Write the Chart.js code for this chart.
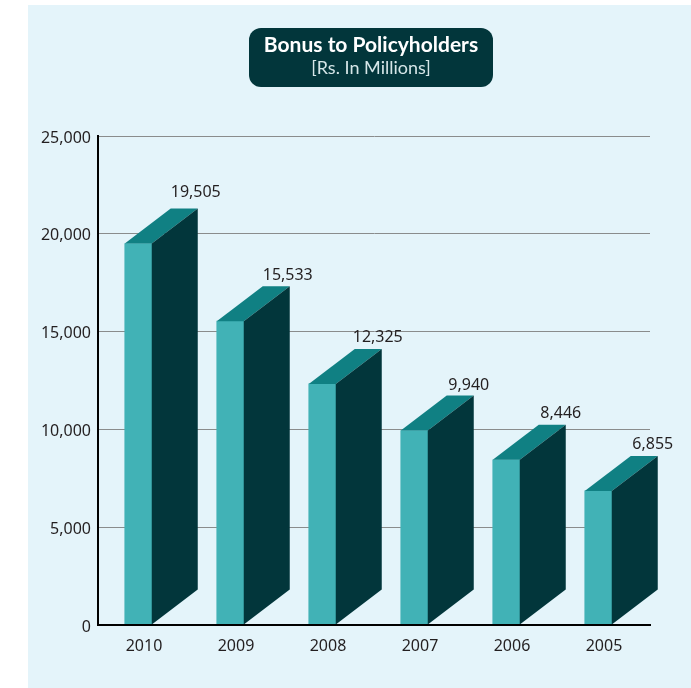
<!DOCTYPE html>
<html>
<head>
<meta charset="utf-8">
<title>Bonus to Policyholders</title>
<script src="https://cdn.jsdelivr.net/npm/chart.js@4"></script>
<style>
    html, body { margin: 0; padding: 0; background: #fff; }
    #panel { position: absolute; left: 28px; top: 5px; width: 663px; height: 683px; background: #e4f4fa; }
    #myChart { position: absolute; left: 0; top: 0; }
</style>
</head>
<body>
<div id="panel"></div>
<canvas id="myChart" width="691" height="688"></canvas>
<script>
const years = ['2010', '2009', '2008', '2007', '2006', '2005'];
const bonus = [19505, 15533, 12325, 9940, 8446, 6855];
const chartTitle = 'Bonus to Policyholders';
const chartSubtitle = '[Rs. In Millions]';

const FRONT = '#41b2b6';
const TOP = '#108083';
const SIDE = '#02363b';
const NAVY = '#02363b';
const TEXT = '#231f20';
const FONT = '"Noto Sans", sans-serif';

// the front face sits a little left of the tick label
const SHIFT_X = -5.75;
const DEPTH_X = 46;
const DEPTH_Y = 35;

// hand placement of the value labels, in pixels from the default spot
const LABEL_NUDGE_X = [0, 0, -2, -3, -3, -3];
const LABEL_NUDGE_Y = [-5, 0, 0, 1, 0, 0];

const formatNumber = value => value.toLocaleString('en-US');

// rounded badge above the plot
const badge = {
    id: 'badge',
    afterDraw(chart) {
        const ctx = chart.ctx;
        ctx.save();
        ctx.fillStyle = NAVY;
        ctx.beginPath();
        ctx.roundRect(249, 28, 244, 59, 12);
        ctx.fill();
        ctx.textAlign = 'center';
        ctx.textBaseline = 'middle';
        ctx.fillStyle = '#fff';
        ctx.font = 'bold 21px Lato, sans-serif';
        ctx.fillText(chartTitle, 371, 45);
        ctx.fillStyle = '#d5e6e8';
        ctx.font = '18px Lato, sans-serif';
        ctx.fillText(chartSubtitle, 371, 68);
        ctx.restore();
    }
};

// turns the flat bars into boxes and writes the value beside each one
const extrude = {
    id: 'extrude',
    beforeDatasetsDraw(chart) {
        chart.ctx.save();
        chart.ctx.translate(SHIFT_X, 0);
    },
    afterDatasetsDraw(chart) {
        const ctx = chart.ctx;
        const bars = chart.getDatasetMeta(0).data;
        bars.forEach((bar, i) => {
            const left = bar.x - bar.width / 2;
            const right = bar.x + bar.width / 2;

            ctx.fillStyle = TOP;
            ctx.beginPath();
            ctx.moveTo(left, bar.y);
            ctx.lineTo(left + DEPTH_X, bar.y - DEPTH_Y);
            ctx.lineTo(right + DEPTH_X, bar.y - DEPTH_Y);
            ctx.lineTo(right, bar.y);
            ctx.closePath();
            ctx.fill();

            ctx.fillStyle = SIDE;
            ctx.beginPath();
            ctx.moveTo(right, bar.y);
            ctx.lineTo(right + DEPTH_X, bar.y - DEPTH_Y);
            ctx.lineTo(right + DEPTH_X, bar.base - DEPTH_Y);
            ctx.lineTo(right, bar.base);
            ctx.closePath();
            ctx.fill();

            ctx.fillStyle = TEXT;
            ctx.font = '16px ' + FONT;
            ctx.textAlign = 'center';
            ctx.textBaseline = 'middle';
            ctx.fillText(formatNumber(bonus[i]), right + 44 + LABEL_NUDGE_X[i], bar.y - 46 + LABEL_NUDGE_Y[i]);
        });
        ctx.restore();
    }
};

new Chart(document.getElementById('myChart'), {
    type: 'bar',
    data: {
        labels: years,
        datasets: [{
            data: bonus,
            backgroundColor: FRONT,
            barThickness: 27
        }]
    },
    options: {
        responsive: false,
        animation: false,
        layout: { padding: { top: 136, right: 41, bottom: 20, left: 0 } },
        plugins: {
            legend: { display: false },
            tooltip: { enabled: false }
        },
        scales: {
            x: {
                grid: { display: false },
                border: { color: '#000', width: 2, z: 1 },
                ticks: { color: TEXT, font: { family: FONT, size: 16 }, padding: 4, maxRotation: 0 },
                afterFit(scale) { scale.height = 43; }
            },
            y: {
                min: 0,
                max: 25000,
                grid: { color: '#8a8c8c', lineWidth: 1, drawTicks: false },
                border: { color: '#000', width: 2, z: 1 },
                ticks: {
                    stepSize: 5000,
                    color: TEXT,
                    font: { family: FONT, size: 16 },
                    padding: 7,
                    labelOffset: 2,
                    callback: formatNumber
                },
                afterFit(scale) { scale.width = 98; }
            }
        }
    },
    plugins: [extrude, badge]
});
</script>
</body>
</html>
